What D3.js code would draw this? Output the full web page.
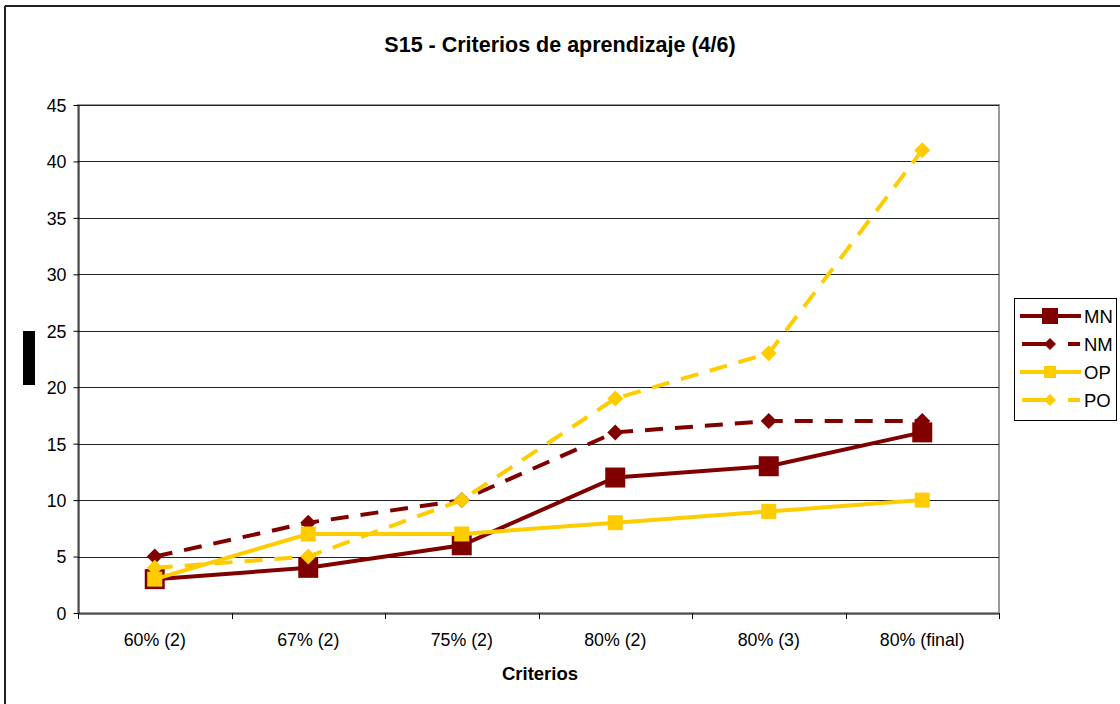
<!DOCTYPE html>
<html><head><meta charset="utf-8">
<script src="https://cdn.jsdelivr.net/npm/d3@7"></script>
<style>body{margin:0;background:#fff}svg{display:block;font-family:"Liberation Sans",Arial,sans-serif}</style>
</head><body><svg id="c" width="1120" height="704"></svg>
<script>
const categories = ["60% (2)","67% (2)","75% (2)","80% (2)","80% (3)","80% (final)"];
const yTicks = [0,5,10,15,20,25,30,35,40,45];
const MN = [3,4,6,12,13,16];
const NM = [5,8,10,16,17,17];
const OP = [3,7,7,8,9,10];
const PO = [4,5,10,19,23,41];
const seriesNames = ["MN","NM","OP","PO"];

const series = [
  {name:"MN", values:MN, color:"#800000", dash:null, marker:"square", size:20},
  {name:"NM", values:NM, color:"#800000", dash:"18,12", marker:"diamond", size:14},
  {name:"OP", values:OP, color:"#FFCC00", dash:null, marker:"square", size:15},
  {name:"PO", values:PO, color:"#FFCC00", dash:"18,12", marker:"diamond", size:14}
];

const svg = d3.select("#c");
const L=78,R=999,T=105,B=613;
const x = d3.scaleBand().domain(categories).range([L,R]);
const y = d3.scaleLinear().domain([0,45]).range([B,T]);

// outer border (left + top)
svg.append("line").attr("x1",5).attr("x2",5).attr("y1",6).attr("y2",704).attr("stroke","#222").attr("stroke-width",2);
svg.append("line").attr("x1",5).attr("x2",1120).attr("y1",6).attr("y2",6).attr("stroke","#222").attr("stroke-width",2);

// title
svg.append("text").attr("x",560).attr("y",52).attr("text-anchor","middle")
  .attr("font-size",21.5).attr("font-weight","bold").text("S15 - Criterios de aprendizaje (4/6)");

// plot area border (gray)
svg.append("rect").attr("x",L).attr("y",T).attr("width",R-L).attr("height",B-T)
  .attr("fill","none").attr("stroke","#999").attr("stroke-width",2);

// gridlines
svg.append("g").selectAll("line").data(yTicks.filter(d=>d>0)).join("line")
  .attr("x1",L).attr("x2",R).attr("y1",d=>Math.round(y(d))+0.5).attr("y2",d=>Math.round(y(d))+0.5)
  .attr("stroke","#222").attr("stroke-width",1);

// y axis
const ya = svg.append("g").attr("transform",`translate(${L+0.5},0)`)
  .call(d3.axisLeft(y).tickValues(yTicks).tickSize(5).tickSizeOuter(0));
ya.attr("font-size",null).attr("font-family",null);
ya.select(".domain").attr("stroke","#000");
ya.selectAll(".tick line").attr("stroke","#000");
ya.selectAll("text").style("font-size","17.8px").attr("fill","#000").attr("x",-12).attr("dy","0.36em");

// x axis
const xa = svg.append("g").attr("transform",`translate(0,${B+0.5})`)
  .call(d3.axisBottom(x).tickSize(0).tickSizeOuter(0));
xa.attr("font-size",null).attr("font-family",null);
xa.select(".domain").attr("stroke","#000");
xa.selectAll("text").style("font-size","17.8px").attr("fill","#000").attr("y",32).attr("dy",0);
// tick marks at band boundaries
const bounds = categories.map(c=>x(c)).concat([R]);
svg.append("g").selectAll("line").data(bounds).join("line")
  .attr("x1",d=>Math.round(d)+0.5).attr("x2",d=>Math.round(d)+0.5).attr("y1",B).attr("y2",B+6)
  .attr("stroke","#000");

svg.append("text").attr("x",540).attr("y",680).attr("text-anchor","middle")
  .attr("font-size",18.5).attr("font-weight","bold").text("Criterios");

// left black bar
svg.append("rect").attr("x",23).attr("y",331).attr("width",12).attr("height",54).attr("fill","#000");

const cx = c=>x(c)+x.bandwidth()/2;
function marker(g, m, px, py, s, color){
  if(m==="square"){
    g.append("rect").attr("x",px-s/2).attr("y",py-s/2).attr("width",s).attr("height",s).attr("fill",color);
  } else {
    const h=s/2+1;
    g.append("path").attr("d",`M${px},${py-h}L${px+h},${py}L${px},${py+h}L${px-h},${py}Z`).attr("fill",color);
  }
}

const line = d3.line().x((d,i)=>cx(categories[i])).y(d=>y(d));
series.forEach(s=>{
  const g = svg.append("g");
  g.append("path").datum(s.values).attr("d",line).attr("fill","none")
    .attr("stroke",s.color).attr("stroke-width",4).attr("stroke-dasharray",s.dash);
  s.values.forEach((v,i)=>marker(g,s.marker,cx(categories[i]),y(v),s.size,s.color));
});

// legend
svg.append("rect").attr("x",1014.5).attr("y",298.5).attr("width",102).attr("height",122)
  .attr("fill","#fff").attr("stroke","#000").attr("stroke-width",1);
series.forEach((s,i)=>{
  const ly = 316 + i*28;
  const g = svg.append("g");
  if(s.dash){
    g.append("line").attr("x1",1022).attr("x2",1050).attr("y1",ly).attr("y2",ly).attr("stroke",s.color).attr("stroke-width",4);
    g.append("line").attr("x1",1068).attr("x2",1080).attr("y1",ly).attr("y2",ly).attr("stroke",s.color).attr("stroke-width",4);
  } else {
    g.append("line").attr("x1",1020).attr("x2",1081).attr("y1",ly).attr("y2",ly).attr("stroke",s.color).attr("stroke-width",4);
  }
  marker(g,s.marker,1050,ly,s.marker==="square"?(s.name==="MN"?16:12):10,s.color);
  g.append("text").attr("x",1084).attr("y",ly+7).attr("font-size",18.5).attr("fill","#000").text(seriesNames[i]);
});
</script></body></html>
